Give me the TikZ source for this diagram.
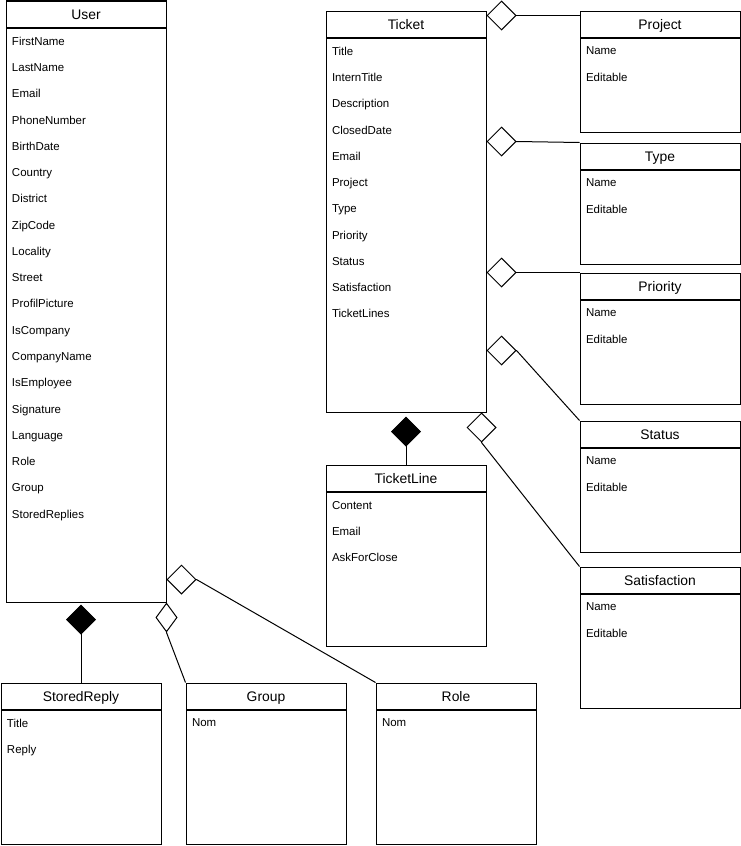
\documentclass[tikz,border=0pt]{standalone}
\usepackage{fontspec}
\setmainfont{Liberation Sans}
\usetikzlibrary{arrows.meta, positioning, calc}

\begin{document}
\begin{tikzpicture}[x=0.75pt, y=-0.75pt, line width=0.75pt,
  classhead/.style={draw, anchor=north west, minimum width=120pt, minimum height=19.5pt, inner sep=0pt, text height=7.5pt, text depth=0pt, font=\fontsize{10.4}{12}\selectfont},
  classbody/.style={draw, anchor=north west, minimum width=120pt, inner sep=0pt},
  attrs/.style={anchor=north west, align=left, inner sep=0pt, font=\fontsize{8.6}{19.7}\selectfont},
  aggr/.style={{Diamond[open, length=22.5pt, width=22.5pt]}-},
  comp/.style={{Diamond[length=22.5pt, width=22.5pt]}-}]
  \useasboundingbox (0,0) rectangle (740,846);

  % User
  \node[classhead] (user) at (5.5,0.5) {User};
  \node[classbody, minimum height=430.5pt] (user-b) at (user.south west) {};
  \node[attrs] (user-a) at ($(user-b.north west)+(6,9)$) {FirstName\\LastName\\Email\\PhoneNumber\\BirthDate\\Country\\District\\ZipCode\\Locality\\Street\\ProfilPicture\\IsCompany\\CompanyName\\IsEmployee\\Signature\\Language\\Role\\Group\\StoredReplies};

  % Ticket
  \node[classhead] (ticket) at (325.5,10.5) {Ticket};
  \node[classbody, minimum height=280.5pt] (ticket-b) at (ticket.south west) {};
  \node[attrs] (ticket-a) at ($(ticket-b.north west)+(6,9)$) {Title\\InternTitle\\Description\\ClosedDate\\Email\\Project\\Type\\Priority\\Status\\Satisfaction\\TicketLines};

  % TicketLine
  \node[classhead] (tline) at (325.5,464.5) {TicketLine};
  \node[classbody, minimum height=115.5pt] (tline-b) at (tline.south west) {};
  \node[attrs] (tline-a) at ($(tline-b.north west)+(6,9)$) {Content\\Email\\AskForClose};

  % right column
  \node[classhead] (project) at (579.5,10.5) {Project};
  \node[classbody, minimum height=70.5pt] (project-b) at (project.south west) {};
  \node[attrs] (project-a) at ($(project-b.north west)+(6,9)$) {Name\\Editable};

  \node[classhead] (type) at (579.5,142.5) {Type};
  \node[classbody, minimum height=70.5pt] (type-b) at (type.south west) {};
  \node[attrs] (type-a) at ($(type-b.north west)+(6,9)$) {Name\\Editable};

  \node[classhead] (priority) at (579.5,272.5) {Priority};
  \node[classbody, minimum height=78pt] (priority-b) at (priority.south west) {};
  \node[attrs] (priority-a) at ($(priority-b.north west)+(6,9)$) {Name\\Editable};

  \node[classhead] (status) at (579.5,420.5) {Status};
  \node[classbody, minimum height=78pt] (status-b) at (status.south west) {};
  \node[attrs] (status-a) at ($(status-b.north west)+(6,9)$) {Name\\Editable};

  \node[classhead] (satisfaction) at (579.5,566.5) {Satisfaction};
  \node[classbody, minimum height=85.5pt] (satisfaction-b) at (satisfaction.south west) {};
  \node[attrs] (satisfaction-a) at ($(satisfaction-b.north west)+(6,9)$) {Name\\Editable};

  % bottom row
  \node[classhead] (storedreply) at (0.5,682.5) {StoredReply};
  \node[classbody, minimum height=100.5pt] (storedreply-b) at (storedreply.south west) {};
  \node[attrs] (storedreply-a) at ($(storedreply-b.north west)+(6,9)$) {Title\\Reply};

  \node[classhead] (group) at (185.5,682.5) {Group};
  \node[classbody, minimum height=100.5pt] (group-b) at (group.south west) {};
  \node[attrs] (group-a) at ($(group-b.north west)+(6,9)$) {Nom};

  \node[classhead] (role) at (375.5,682.5) {Role};
  \node[classbody, minimum height=100.5pt] (role-b) at (role.south west) {};
  \node[attrs] (role-a) at ($(role-b.north west)+(6,9)$) {Nom};

  % links of User
  \draw[comp, shorten <=1.5pt] (storedreply.north |- user-b.south) -- (storedreply.north);
  \draw[{Diamond[open, length=22.5pt, width=16.5pt]}-] (user-b.south east) -- ++(0,30) -- (group.north west);
  \draw[aggr] ($(user-b.south east)+(0,-23)$) -- ++(30,0) -- (role.north west);

  % links of Ticket
  \draw[aggr] ($(ticket.north east)+(0,5)$) -- ($(project.north west)+(0,5)$);
  \draw[aggr] ($(ticket.north east)+(0,131)$) -- ++(30,0) -- (type.north west);
  \draw[aggr] ($(ticket.north east)+(0,262)$) -- ++(30,0) -- (priority.north west);
  \draw[aggr] ($(ticket.north east)+(0,340)$) -- ++(30,0) -- (status.north west);
  \draw[aggr] ($(ticket-b.south east)+(-5,0)$) -- ++(0,30) -- (satisfaction.north west);
  \draw[comp, shorten <=3pt] (ticket-b.south) -- (tline.north);
\end{tikzpicture}
\end{document}
